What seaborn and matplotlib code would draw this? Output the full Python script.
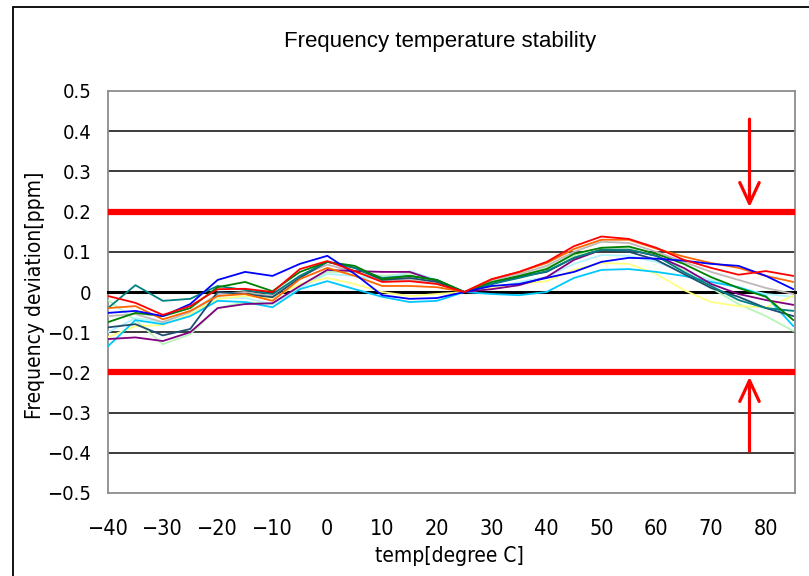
import numpy as np
import pandas as pd
import matplotlib
matplotlib.use("Agg")
import matplotlib.pyplot as plt
import seaborn as sns
from matplotlib import font_manager as fm
from matplotlib.patches import Rectangle

# ---------------- data ----------------
temps = [-40, -35, -30, -25, -20, -15, -10, -5, 0, 5, 10, 15, 20,
         25, 30, 35, 40, 45, 50, 55, 60, 65, 70, 75, 80, 85]

light_green = [-0.020, -0.070, -0.130, -0.105, -0.040, -0.025, -0.030, 0.010, 0.050, 0.050, 0.040, 0.045, 0.025,
               0.000, 0.020, 0.040, 0.060, 0.090, 0.110, 0.110, 0.090, 0.055, 0.010, -0.030, -0.060, -0.097]
light_cyan = [-0.100, -0.065, -0.075, -0.050, -0.015, -0.015, -0.030, 0.010, 0.045, 0.040, 0.030, 0.052, 0.030,
              0.000, 0.010, 0.025, 0.037, 0.070, 0.092, 0.090, 0.075, 0.050, 0.030, 0.010, -0.005, -0.012]
silver = [-0.060, -0.055, -0.075, -0.050, -0.005, 0.000, -0.010, 0.040, 0.068, 0.050, 0.030, 0.030, 0.020,
          0.000, 0.030, 0.045, 0.065, 0.100, 0.125, 0.122, 0.100, 0.075, 0.050, 0.030, 0.010, -0.005]
yellow = [-0.112, -0.085, -0.082, -0.055, -0.017, -0.010, -0.015, 0.020, 0.035, 0.020, 0.000, -0.010, -0.005,
          0.000, 0.010, 0.020, 0.027, 0.055, 0.072, 0.070, 0.045, 0.005, -0.025, -0.035, -0.038, -0.010]
sky = [-0.135, -0.070, -0.080, -0.060, -0.022, -0.025, -0.038, 0.007, 0.027, 0.007, -0.012, -0.025, -0.022,
       0.000, -0.005, -0.008, 0.000, 0.035, 0.055, 0.057, 0.050, 0.040, 0.025, 0.012, -0.010, -0.085]
purple = [-0.117, -0.113, -0.122, -0.100, -0.040, -0.030, -0.028, 0.015, 0.055, 0.052, 0.050, 0.050, 0.027,
          0.000, 0.007, 0.017, 0.037, 0.080, 0.105, 0.105, 0.090, 0.060, 0.020, -0.005, -0.020, -0.032]
navy = [-0.088, -0.080, -0.108, -0.092, 0.000, -0.005, -0.013, 0.035, 0.075, 0.060, 0.030, 0.035, 0.025,
        0.000, 0.020, 0.038, 0.050, 0.085, 0.105, 0.100, 0.080, 0.045, 0.010, -0.012, -0.040, -0.060]
teal = [-0.040, 0.017, -0.022, -0.017, 0.015, 0.005, -0.005, 0.040, 0.075, 0.060, 0.035, 0.040, 0.030,
        0.000, 0.020, 0.035, 0.052, 0.085, 0.105, 0.105, 0.090, 0.050, 0.015, -0.020, -0.040, -0.047]
green = [-0.075, -0.052, -0.060, -0.040, 0.012, 0.025, 0.002, 0.050, 0.075, 0.065, 0.032, 0.040, 0.030,
         0.000, 0.025, 0.040, 0.057, 0.095, 0.110, 0.113, 0.095, 0.070, 0.037, 0.010, -0.012, -0.070]
orange = [-0.040, -0.035, -0.068, -0.047, -0.010, -0.005, -0.022, 0.032, 0.060, 0.040, 0.015, 0.015, 0.012,
          0.000, 0.032, 0.050, 0.072, 0.107, 0.130, 0.130, 0.108, 0.088, 0.072, 0.060, 0.040, 0.025]
blue = [-0.052, -0.047, -0.060, -0.030, 0.030, 0.050, 0.040, 0.070, 0.090, 0.045, -0.008, -0.017, -0.015,
        0.000, 0.015, 0.020, 0.035, 0.050, 0.075, 0.085, 0.083, 0.078, 0.070, 0.065, 0.040, 0.007]
red = [-0.010, -0.027, -0.057, -0.035, 0.007, 0.008, 0.000, 0.057, 0.077, 0.052, 0.025, 0.027, 0.020,
       0.000, 0.032, 0.050, 0.075, 0.114, 0.138, 0.132, 0.110, 0.080, 0.060, 0.043, 0.052, 0.040]

series_names = ["light green", "light cyan", "silver", "yellow", "sky", "purple",
                "navy", "teal", "green", "orange", "blue", "red"]
series_values = [light_green, light_cyan, silver, yellow, sky, purple,
                 navy, teal, green, orange, blue, red]
series_colors = ["#B8F5B8", "#B0F4FF", "#C0B8B8", "#FFFF80", "#00C8FF", "#800080",
                 "#1F4E6E", "#008080", "#008000", "#FF6600", "#0000FF", "#FF0000"]

limits = [0.2, -0.2]
arrow_x = 77
arrow_from = [0.43, -0.396]
arrow_to = [0.211, -0.211]

yticks = [0.5, 0.4, 0.3, 0.2, 0.1, 0.0, -0.1, -0.2, -0.3, -0.4, -0.5]
ytick_labels = ["0.5", "0.4", "0.3", "0.2", "0.1", "0", "\u22120.1", "\u22120.2",
                "\u22120.3", "\u22120.4", "\u22120.5"]
xticks = [-40, -30, -20, -10, 0, 10, 20, 30, 40, 50, 60, 70, 80]
xtick_labels = ["\u221240", "\u221230", "\u221220", "\u221210", "0", "10", "20",
                "30", "40", "50", "60", "70", "80"]

title = "Frequency temperature stability"
xlabel = "temp[degree C]"
ylabel = "Frequency deviation[ppm]"

# ---------------- fonts ----------------
def available(name):
    try:
        fm.findfont(fm.FontProperties(family=name), fallback_to_default=False)
        return True
    except Exception:
        return False

if available("Liberation Sans Narrow"):
    narrow = dict(family="Liberation Sans Narrow")
else:
    narrow = dict(family="DejaVu Sans", stretch="condensed")
title_font = "Liberation Sans" if available("Liberation Sans") else "DejaVu Sans"

sns.set_style("white")
plt.rcParams["font.family"] = [narrow["family"], "DejaVu Sans"]
plt.rcParams["text.color"] = "black"
plt.rcParams["xtick.labelcolor"] = "black"
plt.rcParams["ytick.labelcolor"] = "black"

# ---------------- figure ----------------
fig = plt.figure(figsize=(8.09, 5.76), dpi=100)
ax = fig.add_axes([108 / 809, 1 - 493 / 576, (795 - 108) / 809, (493 - 91) / 576])

rows = []
for name, vals in zip(series_names, series_values):
    for t, v in zip(temps, vals):
        rows.append((name, t, v))
df = pd.DataFrame(rows, columns=["series", "temp", "dev"])

sns.lineplot(data=df, x="temp", y="dev", hue="series", hue_order=series_names,
             palette=dict(zip(series_names, series_colors)), estimator=None,
             linewidth=1.3, legend=False, ax=ax, zorder=3)

ax.set_xlim(-40, 85.3)
ax.set_ylim(-0.5, 0.5)

# y axis
ax.set_yticks(yticks)
ax.set_yticklabels(ytick_labels)
for lab in ax.get_yticklabels():
    lab.set_fontproperties(fm.FontProperties(size=14.5, **narrow))
    lab.set_color("black")
ax.tick_params(axis="y", length=0, pad=12)
ax.yaxis.grid(True, color="#1a1a1a", linewidth=1.2)
ax.set_axisbelow(True)
gl = ax.get_ygridlines()
for i, t in enumerate(yticks):
    if abs(t) in (0.5, 0.0):
        gl[i].set_visible(False)

# x axis: ticks on the zero line, labels below the plot
ax.spines["bottom"].set_position(("data", 0))
ax.spines["bottom"].set_color("black")
ax.spines["bottom"].set_linewidth(2.2)
ax.spines["bottom"].set_zorder(2.5)
ax.set_xticks(xticks)
ax.tick_params(axis="x", direction="in", length=5.5, width=1.2, color="black",
               labelbottom=False)
for s in ["left", "right", "top"]:
    ax.spines[s].set_color("#8c8c8c")
    ax.spines[s].set_linewidth(1.3)
ax.set_xlabel("")
ax.set_ylabel("")

sec = ax.secondary_xaxis(0.0)
sec.set_xticks(xticks)
sec.set_xticklabels(xtick_labels)
for lab in sec.get_xticklabels():
    lab.set_fontproperties(fm.FontProperties(size=15.5, **narrow))
    lab.set_color("black")
sec.tick_params(axis="x", length=0, pad=19)
sec.spines["bottom"].set_color("#8c8c8c")
sec.spines["bottom"].set_linewidth(1.3)

# limit lines and arrows
for lim in limits:
    ax.axhline(lim, color="#FF0000", linewidth=4.5, zorder=4)
for y0, y1 in zip(arrow_from, arrow_to):
    ax.annotate("", xy=(arrow_x, y1), xytext=(arrow_x, y0),
                arrowprops=dict(arrowstyle="->,head_length=0.75,head_width=0.35",
                                color="#FF0000", lw=2.3, mutation_scale=20,
                                shrinkA=0, shrinkB=0), zorder=5)

# texts
fig.text(440 / 809, 1 - 42 / 576, title, ha="center", va="center",
         fontsize=16, family=title_font, color="black")
fig.text(449 / 809, 1 - 556 / 576, xlabel, ha="center", va="center", color="black",
         fontproperties=fm.FontProperties(size=15, **narrow))
fig.text(35 / 809, 1 - 295 / 576, ylabel, ha="center", va="center", rotation=90,
         color="black", fontproperties=fm.FontProperties(size=15, **narrow))

# outer chart frame
fig.patches.append(Rectangle((13 / 809, -0.05), 1.2, 1.05 - 7 / 576,
                             transform=fig.transFigure, fill=False,
                             edgecolor="black", linewidth=1.3))

fig.savefig("out.png", dpi=100)
